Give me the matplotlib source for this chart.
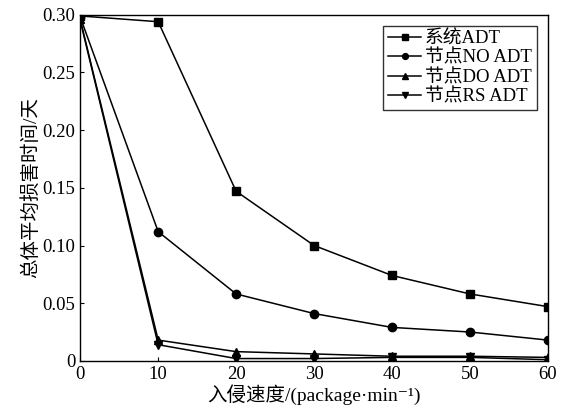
import numpy as np
import matplotlib.pyplot as plt
from matplotlib.ticker import FuncFormatter

plt.rcParams['font.family'] = ['Liberation Serif', 'Noto Sans CJK SC', 'DejaVu Serif']

# Data
speed = [0, 10, 20, 30, 40, 50, 60]
sys_adt = [0.299, 0.294, 0.147, 0.100, 0.074, 0.058, 0.047]
no_adt = [0.298, 0.112, 0.058, 0.041, 0.029, 0.025, 0.018]
do_adt = [0.296, 0.018, 0.008, 0.006, 0.004, 0.004, 0.003]
rs_adt = [0.295, 0.014, 0.002, 0.002, 0.003, 0.003, 0.001]

labels = ['系统ADT', '节点NO ADT', '节点DO ADT', '节点RS ADT']
markers = ['s', 'o', '^', 'v']

fig = plt.figure(figsize=(5.69, 4.11), dpi=100)
ax = fig.add_axes([0.141, 0.122, 0.822, 0.842])

for y, lab, m in zip([sys_adt, no_adt, do_adt, rs_adt], labels, markers):
    ax.plot(speed, y, color='black', linewidth=1.1, marker=m, markersize=6, label=lab)

ax.set_xlim(0, 60)
ax.set_ylim(0, 0.30)
ax.set_xticks([0, 10, 20, 30, 40, 50, 60])
ax.set_yticks([0, 0.05, 0.10, 0.15, 0.20, 0.25, 0.30])
ax.yaxis.set_major_formatter(FuncFormatter(lambda v, p: '0' if v == 0 else f'{v:.2f}'))
ax.tick_params(direction='in', length=3, labelsize=13.5, colors='black')
for s in ax.spines.values():
    s.set_linewidth(1.0)

ax.set_xlabel('入侵速度/(package·min⁻¹)', fontsize=14, labelpad=1)
ax.set_ylabel('总体平均损害时间/天', fontsize=14, labelpad=2)

leg = ax.legend(loc='upper right', fontsize=13.5, frameon=True, fancybox=False,
                edgecolor='black', handlelength=1.8, handletextpad=0.2,
                labelspacing=0.1, borderpad=0.25, borderaxespad=0.6, markerscale=0.7)
leg.get_frame().set_linewidth(1.0)

fig.savefig('out.png', dpi=100)
